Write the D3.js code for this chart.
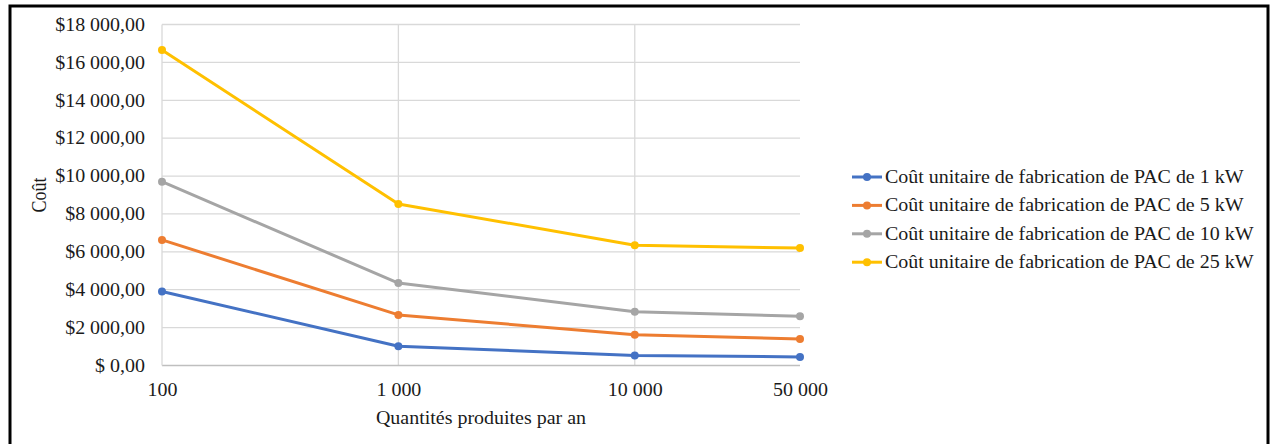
<!DOCTYPE html>
<html>
<head>
<meta charset="utf-8">
<script src="https://cdn.jsdelivr.net/npm/d3@7"></script>
<style>
  html, body { margin: 0; padding: 0; background: #fff; }
  svg { display: block; }
  text { font-family: "Liberation Serif", "Times New Roman", serif; fill: #1a1a1a; }
</style>
</head>
<body>
<svg id="chart" width="1270" height="444"></svg>
<script>
// ---- data ----
const quantities = [100, 1000, 10000, 50000];
const xTickLabels = ["100", "1 000", "10 000", "50 000"];
const seriesNames = [
  "Coût unitaire de fabrication de PAC de 1 kW",
  "Coût unitaire de fabrication de PAC de 5 kW",
  "Coût unitaire de fabrication de PAC de 10 kW",
  "Coût unitaire de fabrication de PAC de 25 kW"
];
const cost1kW  = [3910, 1015, 530, 455];
const cost5kW  = [6630, 2670, 1620, 1400];
const cost10kW = [9700, 4350, 2840, 2600];
const cost25kW = [16650, 8530, 6350, 6200];
const seriesColors = ["#4472C4", "#ED7D31", "#A5A5A5", "#FFC000"];
const yTickValues = [0, 2000, 4000, 6000, 8000, 10000, 12000, 14000, 16000, 18000];
const yTitle = "Coût";
const xTitle = "Quantités produites par an";

const seriesValues = [cost1kW, cost5kW, cost10kW, cost25kW];

// ---- layout ----
const svg = d3.select("#chart");
const plot = { left: 162, right: 800, top: 24.5, bottom: 365.5 };
const FS = "18px";
const SX = 1.11; // horizontal stretch of the reference text

// outer frame
svg.append("rect")
  .attr("x", 10).attr("y", 6)
  .attr("width", 1258).attr("height", 460)
  .attr("fill", "none").attr("stroke", "#000").attr("stroke-width", 3);

const x = d3.scaleLog().domain([100, 50000]).range([plot.left, plot.right]);
const y = d3.scaleLinear().domain([0, 18000]).range([plot.bottom, plot.top]);

const fmtY = d => d === 0 ? "$ 0,00" : "$" + d3.format(",")(d).replace(/,/g, " ") + ",00";

// horizontal gridlines
svg.append("g").selectAll("line").data(yTickValues.filter(d => d > 0)).join("line")
  .attr("x1", plot.left).attr("x2", plot.right)
  .attr("y1", d => y(d)).attr("y2", d => y(d))
  .attr("stroke", "#D9D9D9").attr("stroke-width", 1.3);

// vertical gridlines
svg.append("g").selectAll("line").data(quantities.slice(1, 3)).join("line")
  .attr("x1", d => x(d)).attr("x2", d => x(d))
  .attr("y1", plot.top).attr("y2", plot.bottom)
  .attr("stroke", "#D9D9D9").attr("stroke-width", 1.3);

// axis lines
svg.append("line")
  .attr("x1", plot.left).attr("x2", plot.right)
  .attr("y1", plot.bottom).attr("y2", plot.bottom)
  .attr("stroke", "#BFBFBF").attr("stroke-width", 1.3);
svg.append("line")
  .attr("x1", plot.left).attr("x2", plot.left)
  .attr("y1", plot.top).attr("y2", plot.bottom)
  .attr("stroke", "#D9D9D9").attr("stroke-width", 1.3);

// y axis labels (via d3 axis)
const yAxis = d3.axisLeft(y).tickValues(yTickValues).tickFormat(fmtY).tickSize(0).tickPadding(17 / SX);
const yg = svg.append("g").attr("transform", `translate(${plot.left},0)`).call(yAxis);
yg.select(".domain").remove();
yg.selectAll("text")
  .style("font-family", '"Liberation Serif", serif').style("font-size", FS)
  .attr("fill", "#1a1a1a").attr("transform", `scale(${SX},1)`);

// x axis labels
const xAxis = d3.axisBottom(x).tickValues(quantities).tickFormat((d, i) => xTickLabels[i]).tickSize(0).tickPadding(18);
const xg = svg.append("g").attr("transform", `translate(0,${plot.bottom})`).call(xAxis);
xg.select(".domain").remove();
xg.selectAll("text")
  .style("font-family", '"Liberation Serif", serif').style("font-size", FS)
  .attr("fill", "#1a1a1a").attr("transform", `scale(${SX},1)`);

// titles
svg.append("text")
  .attr("transform", `translate(${(plot.left + plot.right) / 2},424) scale(${SX},1)`)
  .attr("text-anchor", "middle").style("font-size", FS)
  .text(xTitle);
svg.append("text")
  .attr("transform", `translate(46,${(plot.top + plot.bottom) / 2}) rotate(-90) scale(1,${SX})`)
  .attr("text-anchor", "middle").style("font-size", FS)
  .text(yTitle);

// lines
const line = d3.line().x((d, i) => x(quantities[i])).y(d => y(d));
const sg = svg.append("g").selectAll("g").data(seriesValues).join("g");
sg.append("path")
  .attr("d", d => line(d))
  .attr("fill", "none")
  .attr("stroke", (d, i) => seriesColors[i])
  .attr("stroke-width", 3)
  .attr("stroke-linejoin", "round");
sg.each(function(vals, si) {
  d3.select(this).selectAll("circle").data(vals).join("circle")
    .attr("cx", (d, i) => x(quantities[i]))
    .attr("cy", d => y(d))
    .attr("r", 4)
    .attr("fill", seriesColors[si]);
});

// legend
const legend = svg.append("g").attr("transform", "translate(852,177)");
const li = legend.selectAll("g").data(seriesNames).join("g")
  .attr("transform", (d, i) => `translate(0,${i * 28.4})`);
li.append("line").attr("x1", 0).attr("x2", 30).attr("y1", 0).attr("y2", 0)
  .attr("stroke", (d, i) => seriesColors[i]).attr("stroke-width", 3);
li.append("circle").attr("cx", 15).attr("cy", 0).attr("r", 4)
  .attr("fill", (d, i) => seriesColors[i]);
li.append("text").attr("transform", `translate(33,6) scale(${SX},1)`)
  .style("font-size", FS).text(d => d);
</script>
</body>
</html>
